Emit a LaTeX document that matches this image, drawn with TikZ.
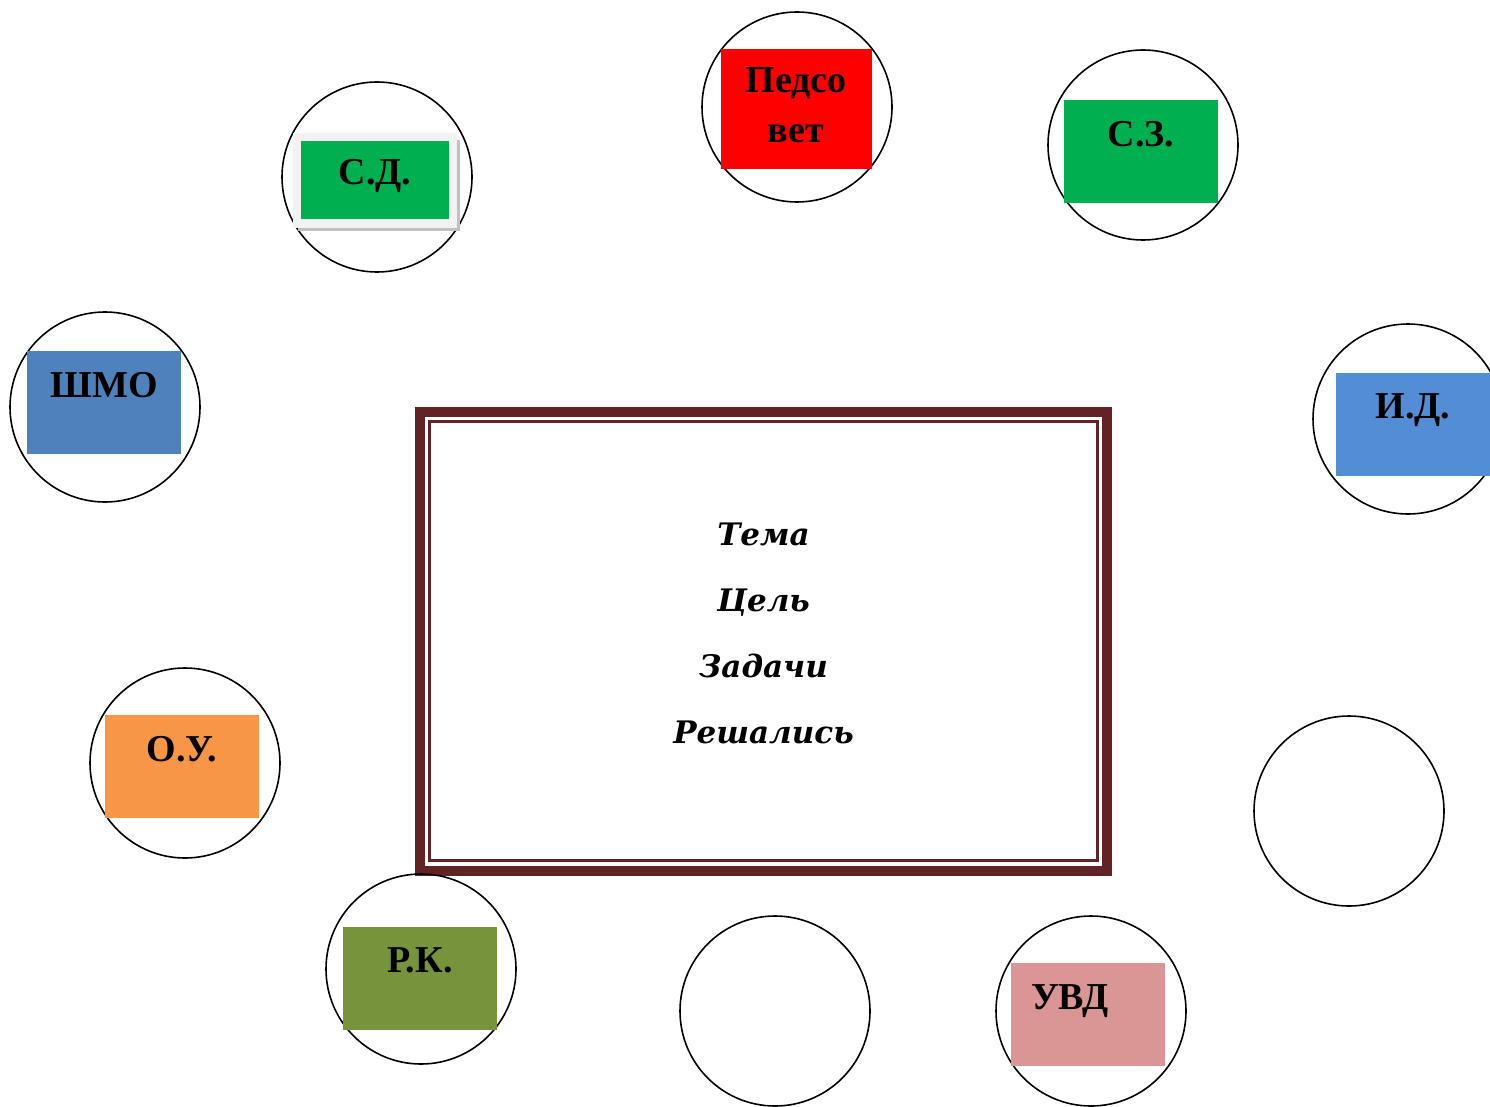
\documentclass[tikz,border=0pt]{standalone}
\usepackage{fontspec}
\setmainfont{Liberation Serif}
\newfontfamily\themefont{DejaVu Serif}
\usepackage{xcolor}
\usetikzlibrary{positioning}
\definecolor{tagGreen}{RGB}{0,176,80}
\definecolor{tagRed}{RGB}{255,0,0}
\definecolor{tagBlue}{RGB}{79,129,189}
\definecolor{tagSky}{RGB}{83,141,213}
\definecolor{tagOrange}{RGB}{247,150,70}
\definecolor{tagOlive}{RGB}{119,147,60}
\definecolor{tagRose}{RGB}{217,150,148}
\definecolor{frameRed}{RGB}{99,35,36}
\definecolor{plateGray}{RGB}{242,242,242}
\definecolor{shadeGray}{RGB}{192,192,192}
\tikzset{
  ring/.style    = {circle, draw=black, line width=1.6pt, minimum size=190pt, inner sep=0pt},
  tag/.style     = {rectangle, inner sep=0pt, minimum width=154pt, minimum height=103pt},
  tagtext/.style = {anchor=base, inner sep=0pt, font=\fontsize{38}{46}\selectfont\bfseries},
  theme/.style   = {anchor=base, inner sep=0pt, font=\themefont\fontsize{31}{40}\selectfont\bfseries\itshape},
  frameout/.style = {rectangle, draw=frameRed, line width=10pt, inner sep=0pt,
                     minimum width=687pt, minimum height=459pt},
  framein/.style  = {rectangle, draw=frameRed, line width=3pt, inner sep=0pt,
                     minimum width=668pt, minimum height=439pt},
}

\begin{document}
\begin{tikzpicture}[x=1pt, y=-1pt]
  \useasboundingbox (0,0) rectangle (1490,1107);
  % central frame
  \node[frameout] (frame) at (763.5,641) {};
  \node[framein] (frame-in) at (frame.center) {};
  \foreach \i/\txt/\y in {1/Тема/545, 2/Цель/611, 3/Задачи/677, 4/Решались/743} {
    \node[theme] (topic\i) at (763.5,\y) {\txt};
  }
  % circles
  \foreach \name/\x/\y in {sd/377/177, ped/797/107, sz/1143/145, shmo/105/407, id/1408/419,
                           ou/185/763, emr/1349/811, rk/421/969, emb/775/1011, uvd/1091/1011} {
    \node[ring] (c-\name) at (\x,\y) {};
  }
  % plain tags
  \foreach \name/\x/\y/\col/\lbl/\dx in {sz/1141/152/tagGreen/С.З./0, shmo/104/402.5/tagBlue/ШМО/0,
                                         id/1413/424/tagSky/И.Д./0, ou/182/766.5/tagOrange/О.У./0,
                                         rk/420/978/tagOlive/Р.К./0, uvd/1088/1014.5/tagRose/УВД/-18} {
    \node[tag, fill=\col] (t-\name) at (\x,\y) {};
    \node[tagtext] (l-\name) at ([xshift=\dx pt, yshift=-46.5pt]t-\name.north) {\lbl};
  }
  % С.Д. with its plate
  \node[tag, fill=shadeGray, minimum width=162pt, minimum height=91pt] (sd-shade) at (379,185.5) {};
  \node[tag, fill=plateGray, minimum width=164pt, minimum height=95pt] (sd-plate) at (375,180.5) {};
  \node[tag, fill=tagGreen, minimum width=148pt, minimum height=78pt] (t-sd) at (375,180) {};
  \node[tagtext] (l-sd) at (375,185) {С.Д.};
  % Педсовет
  \node[tag, fill=tagRed, minimum width=151pt, minimum height=120pt] (t-ped) at (796.5,109) {};
  \node[tagtext] (l-ped1) at (796,93) {Педсо};
  \node[tagtext] (l-ped2) at (796,143) {вет};
\end{tikzpicture}
\end{document}
